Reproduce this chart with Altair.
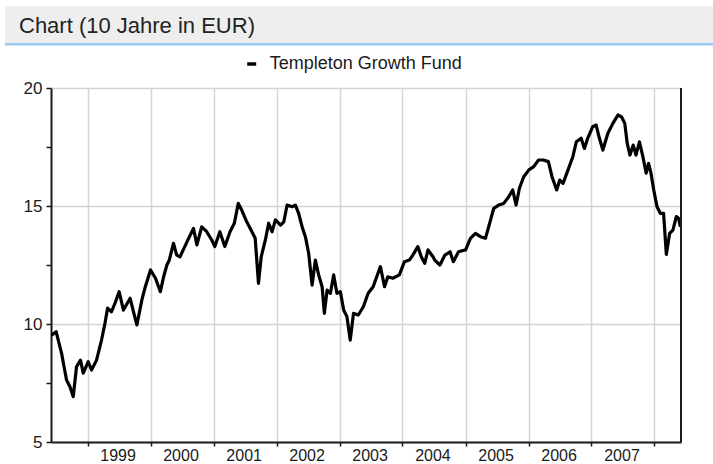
import altair as alt
import pandas as pd

HEADER = "Chart (10 Jahre in EUR)"
SERIES = "Templeton Growth Fund"

dates = [
    "1998-06-06", "1998-07-03", "1998-08-03", "1998-09-01", "1998-09-21", "1998-10-10",
    "1998-10-29", "1998-11-21", "1998-12-07", "1999-01-05",
    "1999-01-24", "1999-02-22", "1999-03-23", "1999-04-12", "1999-04-27", "1999-05-20",
    "1999-06-09", "1999-07-03", "1999-07-28", "1999-09-05", "1999-09-24", "1999-10-14",
    "1999-11-12", "1999-12-02",
    "2000-01-01", "2000-01-30", "2000-02-27", "2000-03-17", "2000-04-05", "2000-04-19",
    "2000-05-13", "2000-06-01", "2000-06-20", "2000-08-09", "2000-09-06", "2000-09-26",
    "2000-10-24", "2000-11-22", "2000-12-21",
    "2001-01-08", "2001-02-06", "2001-03-07", "2001-04-06", "2001-05-01", "2001-05-24",
    "2001-06-13", "2001-07-12", "2001-08-11", "2001-08-30", "2001-09-18", "2001-10-04",
    "2001-10-28", "2001-11-16", "2001-12-06", "2001-12-25",
    "2002-01-24", "2002-02-12", "2002-03-03", "2002-04-01", "2002-04-20", "2002-05-09",
    "2002-05-29", "2002-06-17", "2002-07-06", "2002-07-26", "2002-08-14", "2002-09-02",
    "2002-09-22", "2002-10-05", "2002-10-21", "2002-11-09", "2002-11-28", "2002-12-17",
    "2003-01-06", "2003-01-25", "2003-02-13", "2003-03-04", "2003-03-23", "2003-04-20",
    "2003-05-19", "2003-06-16", "2003-07-15", "2003-08-12", "2003-08-26", "2003-09-19",
    "2003-10-08", "2003-11-06", "2003-12-14",
    "2004-01-12", "2004-02-10", "2004-03-01", "2004-03-30", "2004-04-19", "2004-05-09",
    "2004-05-28", "2004-06-26", "2004-07-06", "2004-08-05", "2004-09-03", "2004-10-03",
    "2004-10-22", "2004-11-21",
    "2005-01-01", "2005-01-29", "2005-02-27", "2005-03-28", "2005-04-26", "2005-05-15",
    "2005-06-13", "2005-07-12", "2005-08-10", "2005-09-08", "2005-10-01", "2005-10-21",
    "2005-11-09", "2005-12-04",
    "2006-01-03", "2006-01-31", "2006-02-28", "2006-03-28", "2006-04-26", "2006-05-17",
    "2006-06-13", "2006-07-01", "2006-07-20", "2006-08-18", "2006-09-15", "2006-10-05",
    "2006-11-02", "2006-11-21", "2006-12-10",
    "2007-01-08", "2007-01-28", "2007-02-16", "2007-03-08", "2007-04-06", "2007-05-05",
    "2007-06-04", "2007-06-24", "2007-07-13", "2007-07-27", "2007-08-12", "2007-08-31",
    "2007-09-16", "2007-10-06", "2007-10-26", "2007-11-14", "2007-11-28", "2007-12-12",
    "2007-12-28",
    "2008-01-16", "2008-02-04", "2008-02-23", "2008-03-10", "2008-03-29", "2008-04-17",
    "2008-05-07", "2008-05-20", "2008-05-30",
]

prices = [
    9.53, 9.67, 8.77, 7.63, 7.34, 6.92, 8.19, 8.47, 7.92, 8.40,
    8.05, 8.47, 9.32, 10.03, 10.67, 10.52, 10.88, 11.37, 10.59, 11.09, 10.52, 9.96, 11.02, 11.58,
    12.29, 11.94, 11.37, 12.00, 12.50, 12.71, 13.42, 12.92, 12.85, 13.63, 14.05, 13.35, 14.12, 13.91, 13.56,
    13.28, 13.91, 13.28, 13.91, 14.27, 15.11, 14.83, 14.33, 13.91, 13.63, 11.72, 12.85, 13.56, 14.27, 13.91, 14.41,
    14.19, 14.33, 15.04, 14.97, 15.04, 14.69, 14.12, 13.70, 13.00, 11.65, 12.71, 12.08, 11.58, 10.45, 11.44, 11.30, 12.08, 11.30,
    11.37, 10.59, 10.31, 9.32, 10.45, 10.38, 10.73, 11.30, 11.58, 12.15, 12.43, 11.58, 12.00, 11.94, 12.08,
    12.64, 12.71, 12.92, 13.28, 12.85, 12.57, 13.14, 12.85, 12.71, 12.50, 12.92, 13.06, 12.64, 13.06,
    13.14, 13.63, 13.84, 13.70, 13.63, 14.12, 14.90, 15.04, 15.11, 15.39, 15.68, 15.04, 15.75, 16.24,
    16.53, 16.67, 16.95, 16.95, 16.88, 16.24, 15.68, 16.10, 15.96, 16.53, 17.09, 17.72, 17.87, 17.44, 17.87,
    18.36, 18.43, 17.87, 17.37, 18.08, 18.50, 18.86, 18.78, 18.50, 17.66, 17.16, 17.58, 17.16, 17.72, 17.09, 16.39, 16.81, 16.39, 15.68,
    14.97, 14.69, 14.69, 12.95, 13.84, 13.98, 14.55, 14.48, 14.12,
]

year_ticks = [1999, 2000, 2001, 2002, 2003, 2004, 2005, 2006, 2007, 2008]
y_ticks = [5, 7.5, 10, 12.5, 15, 17.5, 20]

df = pd.DataFrame({"date": dates, "price": prices, "series": SERIES})
one = pd.DataFrame({"title": [HEADER]})

W, H = 630, 354
FONT = "Liberation Sans"
INK = "#1a1a1a"
GRID = "#d4d4d4"

line = alt.Chart(df).mark_line(strokeWidth=3.2, clip=True, strokeJoin="round").encode(
    x=alt.X(
        "date:T",
        scale=alt.Scale(domain=[alt.DateTime(year=1998, month=6, date=3),
                                alt.DateTime(year=2008, month=6, date=3)]),
        axis=alt.Axis(
            title=None,
            values=[alt.DateTime(year=y, month=1, date=1) for y in year_ticks],
            format="%Y",
            labelExpr="year(datum.value) >= 2008 ? '' : datum.label",
            labelOffset=30, labelAlign="center", labelOverlap=False, labelFlush=False,
            labelFont=FONT, labelFontSize=16, labelColor=INK, labelPadding=1,
            grid=True, gridColor=GRID, gridWidth=1.5,
            domainColor=INK, domainWidth=2,
            tickColor=INK, tickWidth=1.5, tickSize=4,
        ),
    ),
    y=alt.Y(
        "price:Q",
        scale=alt.Scale(domain=[5, 20], nice=False, zero=False),
        axis=alt.Axis(
            title=None,
            values=y_ticks,
            labelExpr="datum.value % 5 === 0 ? datum.label : ''",
            labelFont=FONT, labelFontSize=17, labelColor=INK, labelPadding=4,
            grid=True, gridColor=GRID, gridWidth=1.5,
            gridOpacity=alt.condition("datum.value % 5 !== 0", alt.value(0), alt.value(1)),
            domainColor=INK, domainWidth=2,
            tickColor=INK, tickWidth=1.5, tickSize=5,
        ),
    ),
    color=alt.Color(
        "series:N",
        scale=alt.Scale(domain=[SERIES], range=["#000000"]),
        legend=alt.Legend(
            title=None, orient="none", legendX=191.7, legendY=-33,
            symbolType="stroke", symbolSize=81, symbolStrokeWidth=3.5,
            labelFont=FONT, labelFontSize=18, labelColor=INK, labelOffset=9,
            labelLimit=0, padding=0,
        ),
    ),
)

band = alt.Chart(one).mark_rect(color="#eeeeee").encode(
    x=alt.value(-46), x2=alt.value(662), y=alt.value(-82), y2=alt.value(-45)
)
blue = alt.Chart(one).mark_rect(color="#9ccbf3").encode(
    x=alt.value(-46), x2=alt.value(662), y=alt.value(-45), y2=alt.value(-42.5)
)
header = alt.Chart(one).mark_text(
    align="left", baseline="alphabetic", fontSize=22, font=FONT, color="#222222"
).encode(text="title:N", x=alt.value(-32), y=alt.value(-55))
right = alt.Chart(one).mark_rule(color=INK, strokeWidth=2).encode(
    x=alt.value(W), y=alt.value(0), y2=alt.value(H)
)

chart = alt.layer(band, blue, header, line, right).properties(
    width=W, height=H,
    autosize=alt.AutoSizeParams(type="none"),
    padding={"left": 51, "top": 88, "right": 32, "bottom": 22},
    background="white",
).configure_view(stroke=None)

chart.save("out.html", embed_options={"renderer": "svg", "actions": False})
